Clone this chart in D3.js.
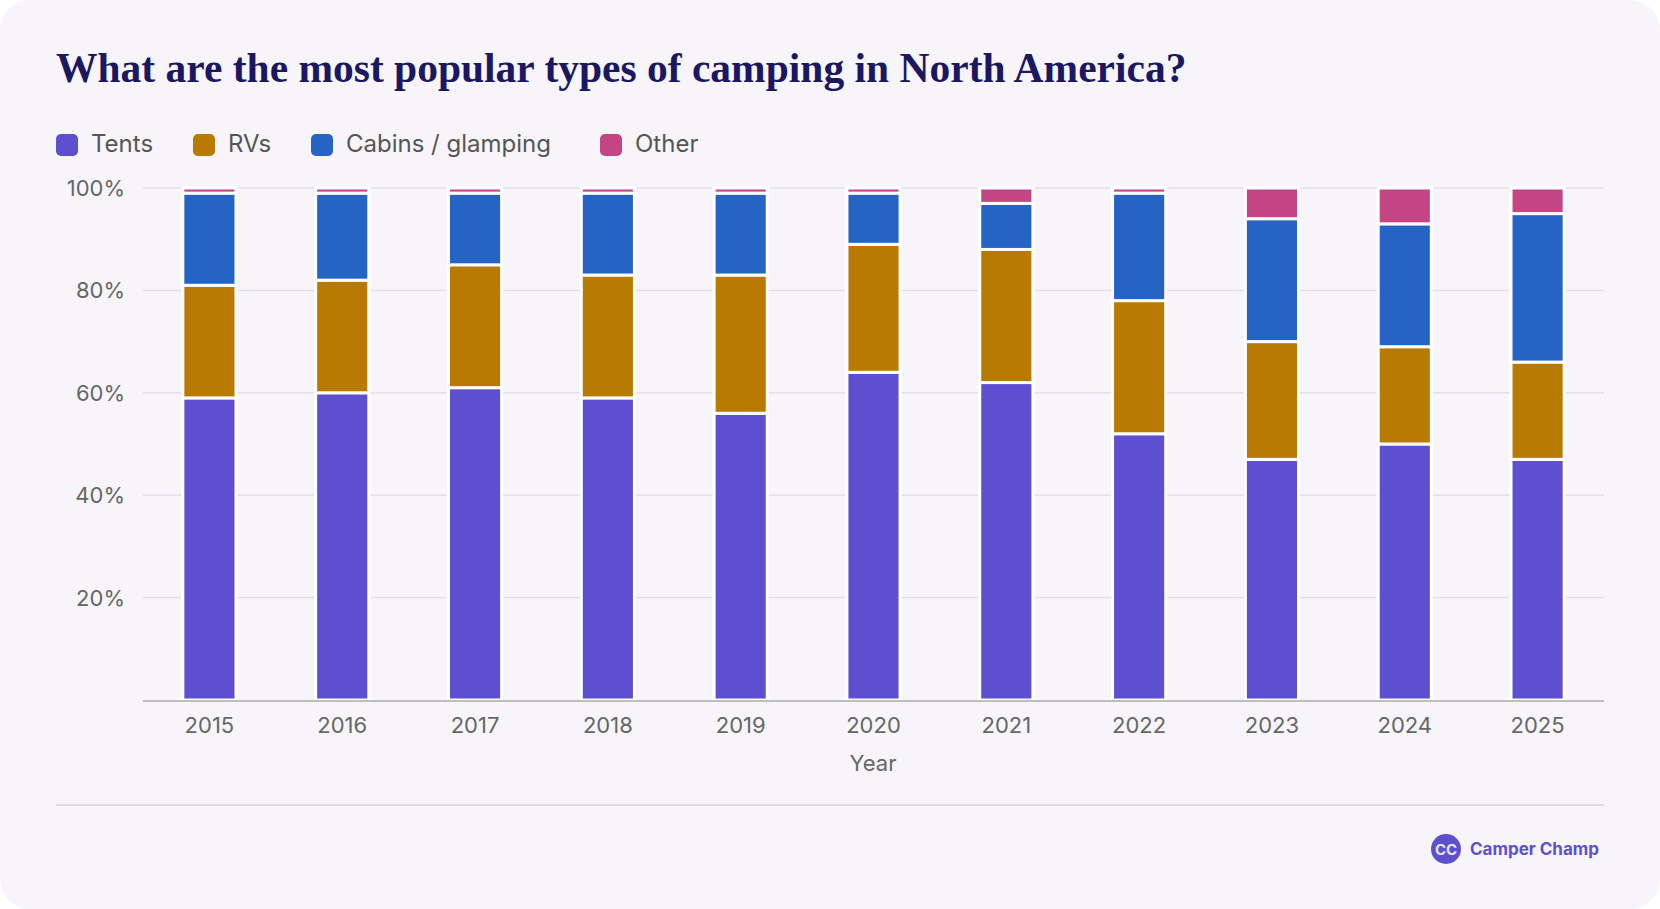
<!DOCTYPE html>
<html><head><meta charset="utf-8">
<script src="https://cdn.jsdelivr.net/npm/d3@7"></script>
<style>
body{margin:0;background:#fff;}
svg{display:block;font-family:Inter,"Noto Sans",sans-serif;}
</style></head>
<body><svg id="chart" width="1660" height="909"></svg>
<script>
const years = ["2015","2016","2017","2018","2019","2020","2021","2022","2023","2024","2025"];
const tents  = [59,60,61,59,56,64,62,52,47,50,47];
const rvs    = [22,22,24,24,27,25,26,26,23,19,19];
const cabins = [18,17,14,16,16,10,9,21,24,24,29];
const other  = [1,1,1,1,1,1,3,1,6,7,5];
const seriesNames = ["Tents","RVs","Cabins / glamping","Other"];
const colours = ["#5d4fcf","#b87a00","#2563c4","#c44584"];
const yTicks = [20,40,60,80,100];

let svg = d3.select("#chart");
svg.append("rect").attr("x",0).attr("y",0).attr("width",1660).attr("height",909)
   .attr("rx",30).attr("fill","#f7f5fa");

svg.append("text").attr("x",56).attr("y",82)
   .attr("font-family","'Liberation Serif',serif").attr("font-weight","bold")
   .attr("font-size",41.5).attr("fill","#1b1760")
   .text("What are the most popular types of camping in North America?");

// legend
let lx = [56,193,311,600];
seriesNames.forEach((n,i)=>{
    svg.append("rect").attr("x",lx[i]).attr("y",134).attr("width",22).attr("height",22)
       .attr("rx",5).attr("fill",colours[i]);
    svg.append("text").attr("x",lx[i]+35).attr("y",152).attr("font-size",24)
       .attr("fill","#555").text(n);
});

let x = d3.scaleBand().domain(years).range([143,1604]).paddingInner(0.6).paddingOuter(0.3);
let y = d3.scaleLinear().domain([0,100]).range([700,188]);

let g = svg.append("g");
yTicks.forEach(t=>{
    g.append("line").attr("x1",143).attr("x2",1604).attr("y1",y(t)).attr("y2",y(t))
     .attr("stroke","#e2e0e6").attr("stroke-width",1.5);
    g.append("text").attr("x",125).attr("y",y(t)+8).attr("text-anchor","end")
     .attr("font-size",22).attr("fill","#666").text(t+"%");
});

let rows = years.map((yr,i)=>({year:yr,Tents:tents[i],RVs:rvs[i],"Cabins / glamping":cabins[i],Other:other[i]}));
let stack = d3.stack().keys(seriesNames)(rows);
stack.forEach((s,si)=>{
    g.selectAll(null).data(s).enter().append("rect")
     .attr("x",d=>x(d.data.year))
     .attr("width",x.bandwidth())
     .attr("y",d=>y(d[1]))
     .attr("height",d=>y(d[0])-y(d[1]))
     .attr("fill",colours[si])
     .attr("stroke","#fff").attr("stroke-width",3);
});

g.append("line").attr("x1",143).attr("x2",1604).attr("y1",701).attr("y2",701)
 .attr("stroke","#aaa").attr("stroke-width",1.5);
years.forEach(yr=>{
    g.append("text").attr("x",x(yr)+x.bandwidth()/2).attr("y",733).attr("text-anchor","middle")
     .attr("font-size",22).attr("fill","#666").text(yr);
});
svg.append("text").attr("x",873).attr("y",771).attr("text-anchor","middle")
   .attr("font-size",22).attr("fill","#666").text("Year");

svg.append("line").attr("x1",56).attr("x2",1604).attr("y1",805).attr("y2",805)
   .attr("stroke","#dedce2").attr("stroke-width",2);

// logo
svg.append("circle").attr("cx",1446).attr("cy",849).attr("r",15).attr("fill","#5d4fcf");
svg.append("text").attr("x",1446).attr("y",855).attr("text-anchor","middle")
   .attr("font-size",15).attr("font-weight","bold").attr("fill","#e8e4ff").text("CC");
svg.append("text").attr("x",1470).attr("y",855).attr("font-size",17).attr("font-weight","bold")
   .attr("fill","#5d4fcf").text("Camper Champ");
</script></body></html>
